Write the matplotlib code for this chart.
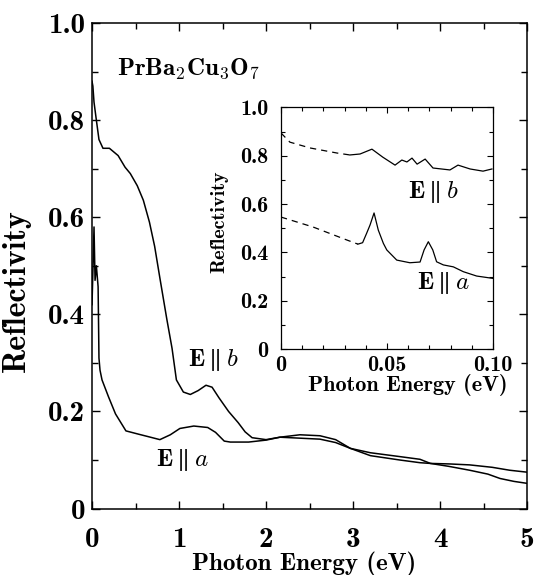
import numpy as np
import matplotlib
matplotlib.use("Agg")
import matplotlib.pyplot as plt
from matplotlib.ticker import MultipleLocator, FixedLocator, FixedFormatter

plt.rcParams['mathtext.fontset'] = 'cm'

# main panel, E || b
eb_x = [0.0, 0.01, 0.023, 0.05, 0.08, 0.126, 0.2, 0.3, 0.38, 0.44, 0.52, 0.59, 0.66,
        0.72, 0.78, 0.86, 0.92, 0.97, 1.05, 1.13, 1.22, 1.31, 1.38, 1.46, 1.57, 1.68,
        1.76, 1.84, 2.0, 2.16, 2.39, 2.62, 2.8, 2.97, 3.2, 3.54, 3.77, 3.89, 4.1,
        4.34, 4.55, 4.69, 4.85, 5.0]
eb_y = [0.88, 0.87, 0.837, 0.80, 0.76, 0.742, 0.742, 0.727, 0.703, 0.69, 0.665, 0.635, 0.59,
        0.54, 0.475, 0.39, 0.33, 0.265, 0.24, 0.235, 0.243, 0.254, 0.25, 0.228, 0.2, 0.177,
        0.158, 0.146, 0.142, 0.147, 0.152, 0.15, 0.142, 0.124, 0.109, 0.1, 0.0945, 0.093, 0.087,
        0.079, 0.071, 0.062, 0.056, 0.052]

# main panel, E || a
ea_x = [0.0, 0.012, 0.023, 0.035, 0.05, 0.07, 0.08, 0.092, 0.115, 0.19, 0.27, 0.39, 0.54,
        0.65, 0.78, 0.9, 1.01, 1.17, 1.33, 1.42, 1.52, 1.59, 1.8, 2.0, 2.16, 2.39, 2.62,
        2.8, 2.97, 3.2, 3.54, 3.77, 3.89, 4.1, 4.34, 4.6, 4.8, 5.0]
ea_y = [0.42, 0.50, 0.58, 0.47, 0.50, 0.457, 0.31, 0.285, 0.265, 0.23, 0.195, 0.16, 0.153,
        0.148, 0.142, 0.152, 0.165, 0.170, 0.167, 0.157, 0.139, 0.137, 0.137, 0.141, 0.147, 0.145, 0.143,
        0.136, 0.124, 0.115, 0.107, 0.1015, 0.093, 0.092, 0.09, 0.085, 0.079, 0.075]

# inset, E || b (dashed part is extrapolation)
ib_dash_x = [0.0, 0.0042, 0.0137, 0.0264, 0.0325]
ib_dash_y = [0.894, 0.856, 0.832, 0.811, 0.803]
ib_x = [0.0325, 0.0373, 0.0429, 0.048, 0.0538, 0.057, 0.0594, 0.0618, 0.0642, 0.068,
        0.0717, 0.0797, 0.0835, 0.0892, 0.0953, 0.0995]
ib_y = [0.803, 0.807, 0.827, 0.794, 0.761, 0.782, 0.774, 0.79, 0.765, 0.786,
        0.749, 0.741, 0.761, 0.745, 0.736, 0.745]

# inset, E || a
ia_dash_x = [0.0, 0.0151, 0.0311, 0.0363]
ia_dash_y = [0.546, 0.505, 0.451, 0.434]
ia_x = [0.0363, 0.0385, 0.0404, 0.042, 0.0439, 0.0459, 0.0483, 0.0499, 0.0546, 0.0608,
        0.0656, 0.0675, 0.0695, 0.0716, 0.0734, 0.0766, 0.0813, 0.086, 0.0923, 0.0998]
ia_y = [0.434, 0.44, 0.479, 0.513, 0.563, 0.492, 0.437, 0.41, 0.368, 0.357,
        0.36, 0.41, 0.444, 0.41, 0.361, 0.348, 0.34, 0.32, 0.302, 0.2925]

main_xticks = [0, 1, 2, 3, 4, 5]
main_yticks = [0, 0.2, 0.4, 0.6, 0.8, 1.0]
main_ylabels = ['0', '0.2', '0.4', '0.6', '0.8', '1.0']
ins_xticks = [0, 0.05, 0.10]
ins_xlabels = ['0', '0.05', '0.10']

bold = 'cmb10'

fig = plt.figure(figsize=(5.34, 5.75), dpi=100)
ax = fig.add_axes([0.1723, 0.1155, 0.8146, 0.8445])
ax.plot(eb_x, eb_y, color='black', lw=1.1)
ax.plot(ea_x, ea_y, color='black', lw=1.1)
ax.set_xlim(0, 5)
ax.set_ylim(0, 1.0)
ax.xaxis.set_major_locator(FixedLocator(main_xticks))
ax.xaxis.set_minor_locator(MultipleLocator(0.5))
ax.yaxis.set_major_locator(FixedLocator(main_yticks))
ax.yaxis.set_major_formatter(FixedFormatter(main_ylabels))
ax.yaxis.set_minor_locator(MultipleLocator(0.1))
ax.tick_params(which='both', direction='in', top=True, right=True, width=1.0)
ax.tick_params(which='major', length=6)
ax.tick_params(which='minor', length=4)
ax.tick_params(axis='x', which='major', pad=13)
ax.tick_params(axis='y', which='major', pad=5)
for lab in ax.get_xticklabels() + ax.get_yticklabels():
    lab.set_fontfamily(bold)
    lab.set_fontsize(21)
for s in ax.spines.values():
    s.set_linewidth(1.1)
ax.set_xlabel('Photon Energy (eV)', fontfamily=bold, fontsize=18)
ax.xaxis.set_label_coords(0.487, -0.088)
ax.set_ylabel('Reflectivity', fontfamily=bold, fontsize=23)
ax.yaxis.set_label_coords(-0.14, 0.45)

ax.text(0.284, 0.893, r'$\mathbf{PrBa_2Cu_3O_7}$', fontsize=18, ha='left', va='baseline')
ax.text(1.10, 0.306, r'$\mathbf{E}\parallel b$', fontsize=18, ha='left', va='center')
ax.text(0.74, 0.10, r'$\mathbf{E}\parallel a$', fontsize=18, ha='left', va='center')

# inset
ins = fig.add_axes([0.5262, 0.393, 0.397, 0.4203])
ins.plot(ib_dash_x, ib_dash_y, color='black', lw=0.9, ls=(0, (5, 4)))
ins.plot(ib_x, ib_y, color='black', lw=0.9)
ins.plot(ia_dash_x, ia_dash_y, color='black', lw=0.9, ls=(0, (5, 4)))
ins.plot(ia_x, ia_y, color='black', lw=0.9)
ins.set_xlim(0, 0.1)
ins.set_ylim(0, 1.0)
ins.xaxis.set_major_locator(FixedLocator(ins_xticks))
ins.xaxis.set_major_formatter(FixedFormatter(ins_xlabels))
ins.xaxis.set_minor_locator(MultipleLocator(0.01))
ins.yaxis.set_major_locator(FixedLocator(main_yticks))
ins.yaxis.set_major_formatter(FixedFormatter(main_ylabels))
ins.yaxis.set_minor_locator(MultipleLocator(0.1))
ins.tick_params(which='both', direction='in', top=True, right=True, width=0.8)
ins.tick_params(which='major', length=4)
ins.tick_params(which='minor', length=3)
ins.tick_params(axis='x', which='major', pad=5)
ins.tick_params(axis='y', which='major', pad=9)
for lab in ins.get_xticklabels() + ins.get_yticklabels():
    lab.set_fontfamily(bold)
    lab.set_fontsize(16)
for s in ins.spines.values():
    s.set_linewidth(0.9)
ins.set_xlabel('Photon Energy (eV)', fontfamily=bold, fontsize=16)
ins.xaxis.set_label_coords(0.6, -0.105)
ins.set_ylabel('Reflectivity', fontfamily=bold, fontsize=14.5)
ins.yaxis.set_label_coords(-0.25, 0.525)
ins.text(0.06, 0.65, r'$\mathbf{E}\parallel b$', fontsize=18, ha='left', va='center')
ins.text(0.064, 0.273, r'$\mathbf{E}\parallel a$', fontsize=18, ha='left', va='center')

fig.savefig('out.png', dpi=100)
